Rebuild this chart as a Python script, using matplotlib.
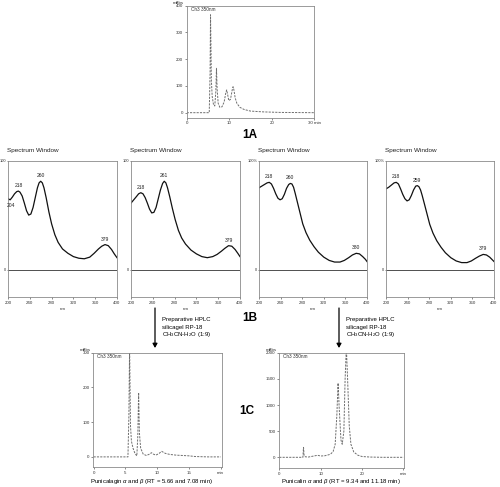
import matplotlib
matplotlib.use("Agg")
import matplotlib.pyplot as plt

plt.rcParams['font.family'] = ['Liberation Sans', 'DejaVu Sans']
plt.rcParams['mathtext.fontset'] = 'custom'
plt.rcParams['mathtext.rm'] = 'Liberation Sans'
plt.rcParams['mathtext.it'] = 'Liberation Sans:italic'

W, H = 500, 487

# ---------------- data ----------------
# 1A crude extract chromatogram (time min, mAbs)
a_time = [0, 5.3, 5.5, 5.6, 5.7, 5.8, 6.0, 6.3, 6.6, 6.85, 7.0, 7.15, 7.4, 7.8, 8.3, 8.8, 9.2, 9.4,
          9.6, 9.9, 10.3, 10.7, 10.9, 11.1, 11.4, 11.8, 12.5, 13.5, 15, 18, 22, 30]
a_abs = [0, 0, 150, 366, 250, 120, 60, 30, 25, 80, 166, 90, 35, 20, 22, 40, 75, 85,
         70, 45, 50, 85, 97, 85, 55, 35, 20, 12, 6, 3, 1, 0]
a_yticks = [0, 100, 200, 300, 400]
a_xticks = [0, 10, 20, 30]
a_xlabels = ['0', '10', '20', '30 min']

# 1B UV spectra (nm, % absorbance)
s1_nm = [200, 204, 208, 212, 216, 219, 222, 226, 230, 234, 238, 242, 246, 250, 254, 257, 260, 263,
         266, 270, 275, 280, 286, 292, 300, 310, 320, 330, 340, 350, 358, 366, 372, 378, 384, 390,
         395, 400]
s1_val = [65, 64, 66.5, 69.5, 71.5, 72, 71, 67.5, 61, 54, 50, 51, 57, 66, 75, 79.5, 81, 79.5,
          75, 66, 53, 42, 32, 25, 19, 15, 12, 10.5, 10, 11.5, 15, 19, 21.5, 23, 22, 18.5,
          14.5, 11]
s2_nm = [200, 205, 210, 214, 218, 222, 226, 230, 234, 238, 242, 246, 250, 254, 258, 261, 264, 267,
         271, 276, 281, 287, 293, 300, 310, 320, 330, 340, 350, 358, 366, 372, 379, 385, 391, 396,
         400]
s2_val = [61, 64, 67, 69.5, 70.5, 69.5, 66, 61, 55.5, 52, 52.5, 57, 65, 73, 79, 81, 79.5, 75,
          67, 56, 46, 36, 29, 23.5, 18, 14.5, 12, 11, 12, 14, 17, 19.5, 22, 21.5, 18.5, 15,
          12]
s3_nm = [200, 205, 210, 215, 219, 223, 227, 231, 235, 239, 243, 247, 251, 255, 258, 261, 264, 267,
         271, 276, 281, 287, 294, 302, 310, 320, 330, 340, 350, 358, 366, 373, 380, 386, 392, 397,
         400]
s3_val = [75, 76.5, 78, 79.5, 80, 78.5, 74.5, 69.5, 65.5, 64, 65, 69, 74.5, 78, 79, 78.5, 75.5, 70,
          62, 52, 42, 34, 27, 21, 16, 11.5, 8.5, 7, 7, 8.5, 11, 13.5, 15, 14.5, 12, 9.5,
          7.5]
s4_nm = s3_nm
s4_val = [74, 75.5, 77.5, 79.5, 80, 78.5, 74, 69, 65, 63, 64, 68, 73, 76.5, 77, 76, 73, 68,
          60.5, 51, 41.5, 33.5, 26.5, 20.5, 15.5, 11, 8, 6.5, 6.5, 8, 10.5, 12.5, 14, 13.5, 11.5, 9,
          7.5]
spec_xticks = [200, 240, 280, 320, 360, 400]
spec_toplabels = ['100', '100', '100%', '100%']
# peak labels: (nm, value, text, above?)
s1_peaks = [(206, 64, '204', False), (219, 72, '218', True), (260, 81, '260', True), (378, 23, '379', True)]
s2_peaks = [(218, 70.5, '218', True), (261, 81, '261', True), (379, 22, '379', True)]
s3_peaks = [(219, 80, '218', True), (258, 79, '260', True), (380, 15, '380', True)]
s4_peaks = [(219, 80, '218', True), (258, 77, '259', True), (380, 14, '379', True)]

# 1C left: punicalagin
l_time = [0, 5.4, 5.55, 5.66, 5.8, 5.95, 6.2, 6.5, 6.8, 6.95, 7.08, 7.2, 7.4, 7.8, 8.3, 8.8, 9.1, 9.4,
          9.8, 10.3, 10.7, 10.9, 11.3, 12, 13, 14, 15, 16, 18, 20]
l_abs = [0, 0, 120, 320, 90, 45, 25, 10, 3, 60, 185, 70, 25, 8, 4, 8, 12, 8,
         5, 10, 16, 14, 10, 7, 5, 4, 3, 1, 0, 0]
l_yticks = [0, 100, 200, 300]
l_xticks = [0, 5, 10, 15, 20]
l_xlabels = ['0', '5', '10', '15', 'min']

# 1C right: punicalin
r_time = [0, 5.7, 5.85, 6.0, 6.3, 7, 8, 9, 9.3, 10, 11, 12, 12.5, 13, 13.5, 13.9, 14.2, 14.5, 14.9,
          15.2, 15.6, 15.9, 16.2, 16.5, 16.9, 17.3, 18, 19, 20, 22, 25, 30]
r_abs = [0, 0, 190, 30, 10, 5, 20, 35, 38, 25, 30, 50, 70, 110, 250, 800, 1420, 900, 330,
         250, 500, 1500, 2100, 1500, 600, 250, 100, 40, 15, 5, 0, 0]
r_yticks = [0, 500, 1000, 1500, 2000]
r_xticks = [0, 10, 20, 30]
r_xlabels = ['0', '10', '20', 'min']

# ---------------- figure ----------------
fig = plt.figure(figsize=(W / 100, H / 100), dpi=100)
fig.patch.set_facecolor('white')

FRAME = '#8a8a8a'
TICKFS = 3.2


def ax_px(l, t, r, b):
    return fig.add_axes([l / W, 1 - b / H, (r - l) / W, (b - t) / H])


def ftext(x, y, s, **kw):
    fig.text(x / W, 1 - y / H, s, **kw)


def style(ax, ypad=1.2, ylen=1.5, ysize=TICKFS):
    for sp in ax.spines.values():
        sp.set_color(FRAME)
        sp.set_linewidth(0.6)
    ax.tick_params(direction='out', length=1.5, width=0.4, colors='#333333',
                   labelsize=TICKFS, pad=1.2)
    ax.tick_params(axis='y', pad=ypad, length=ylen, labelsize=ysize)


def chrom(ax, t, v, xlim, ylim, yticks, xticks, xlabels):
    ax.plot(t, v, color='#6e6e6e', lw=0.7, ls=(0, (2.2, 1.2)))
    ax.set_xlim(*xlim)
    ax.set_ylim(*ylim)
    ax.set_yticks(yticks)
    ax.set_xticks(xticks)
    ax.set_xticklabels(xlabels)
    style(ax)
    ax.text(0.03, 0.985, 'Ch3 350nm', transform=ax.transAxes, fontsize=3.4,
            va='top', ha='left', color='#333333')
    ax.text(-0.02, 1.01, 'mAbs', transform=ax.transAxes, fontsize=3.2,
            va='bottom', ha='right', color='#333333')


# 1A
axA = ax_px(186.7, 5.7, 314.3, 117.5)
chrom(axA, a_time, a_abs, (0, 30), (-18, 400), a_yticks, a_xticks, a_xlabels)
ftext(250, 135, '1A', fontsize=8.5, fontweight='bold', ha='center', va='center')

# 1B spectra
boxes = [(8, 117), (131, 240), (259, 367), (386, 494)]
spectra = [(s1_nm, s1_val, s1_peaks), (s2_nm, s2_val, s2_peaks),
           (s3_nm, s3_val, s3_peaks), (s4_nm, s4_val, s4_peaks)]
for (l, r), (nm, val, peaks), top in zip(boxes, spectra, spec_toplabels):
    ax = ax_px(l, 160.5, r, 297)
    ax.plot(nm, val, color='#111111', lw=0.9)
    ax.axhline(0, color='#333333', lw=0.6)
    ax.set_xlim(200, 400)
    ax.set_ylim(-25, 100)
    ax.set_xticks(spec_xticks)
    ax.set_yticks([0, 100])
    ax.set_yticklabels(['0', top])
    style(ax, ypad=0.3, ylen=0.8, ysize=2.9)
    ax.set_xlabel('nm', fontsize=3.2, labelpad=1.5, color='#333333')
    for x, y, s, above in peaks:
        ax.annotate(s, (x, y), xytext=(0, 2.2 if above else -2.2), textcoords='offset points',
                    ha='center', va='bottom' if above else 'top', fontsize=3.6, color='#222222')
    ftext(l - 1, 150.5, 'Spectrum Window', fontsize=4.6, ha='left', va='center', color='#222222')

ftext(250, 318, '1B', fontsize=8.5, fontweight='bold', ha='center', va='center')

# arrows and prep text
for xa in (155, 339):
    fig.add_artist(matplotlib.patches.FancyArrowPatch(
        (xa / W, 1 - 308 / H), (xa / W, 1 - 348 / H), transform=fig.transFigure,
        arrowstyle='-|>,head_length=2.5,head_width=1.4', color='black', lw=0.9,
        shrinkA=0, shrinkB=0))
    ftext(xa + 7, 320, 'Preparative HPLC', fontsize=4.3, ha='left', va='center')
    ftext(xa + 7, 327.3, 'silicagel RP-18', fontsize=4.3, ha='left', va='center')
    ftext(xa + 7, 334.3, r'CH$_3$CN-H$_2$O (1:9)', fontsize=4.3, ha='left', va='center')

# 1C
axL = ax_px(93.3, 352.7, 221.7, 467.3)
chrom(axL, l_time, l_abs, (-0.05, 20.15), (-30, 300), l_yticks, l_xticks, l_xlabels)
axR = ax_px(279.3, 352.7, 404.3, 468.3)
chrom(axR, r_time, r_abs, (0, 30.2), (-210, 2000), r_yticks, r_xticks, r_xlabels)
ftext(247, 411, '1C', fontsize=8.5, fontweight='bold', ha='center', va='center')

ftext(152, 482, 'Punicalagin $\\alpha$ and $\\beta$ (RT = 5.66 and 7.08 min)', fontsize=4.3,
      ha='center', va='center')
ftext(341, 482, 'Punicalin $\\alpha$ and $\\beta$ (RT = 9.34 and 11.18 min)', fontsize=4.3,
      ha='center', va='center')

fig.savefig('out.png', dpi=100)
